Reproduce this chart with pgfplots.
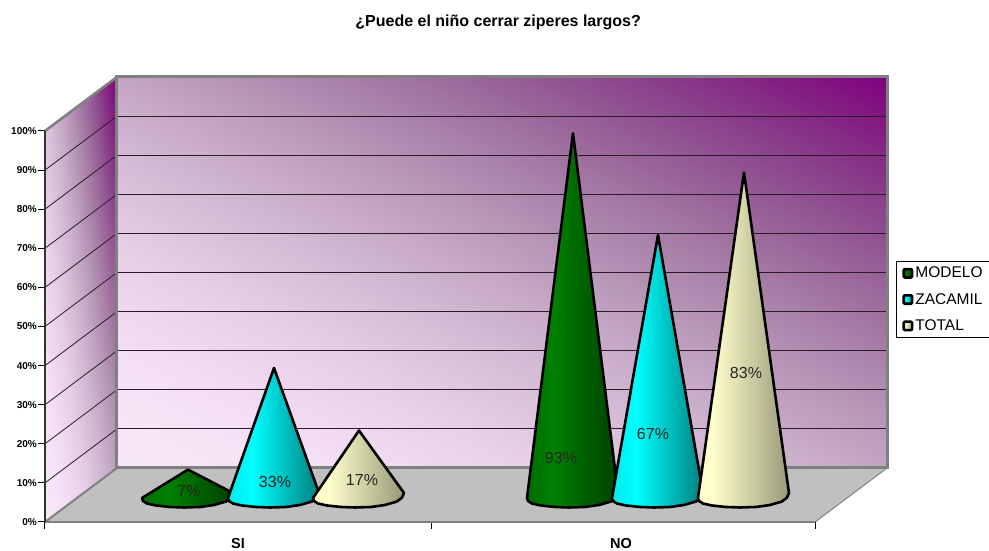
\documentclass[border=0pt]{standalone}
\usepackage{pgfplots}
\pgfplotsset{compat=1.18}
\usepackage{fontspec}
\usetikzlibrary{shadings}
\setmainfont{Liberation Sans}
\definecolor{cgreen}{HTML}{008000}
\definecolor{ccyan}{HTML}{00FFFF}
\definecolor{ccream}{HTML}{FFFFCC}
\definecolor{edgegray}{HTML}{808080}
\definecolor{floorgray}{HTML}{C0C0C0}
\definecolor{gridc}{HTML}{2A1A2A}
\pgfdeclarehorizontalshading{greencone}{100bp}{color(0bp)=(cgreen!85!black); color(25bp)=(cgreen!85!black); color(40bp)=(cgreen); color(75bp)=(cgreen!50!black); color(100bp)=(cgreen!50!black)}
\pgfdeclarehorizontalshading{cyancone}{100bp}{color(0bp)=(ccyan!92!black); color(25bp)=(ccyan!92!black); color(38bp)=(ccyan); color(75bp)=(ccyan!50!black); color(100bp)=(ccyan!50!black)}
\pgfdeclarehorizontalshading{creamcone}{100bp}{color(0bp)=(ccream); color(25bp)=(ccream); color(33bp)=(ccream); color(75bp)=(ccream!60!black); color(100bp)=(ccream!60!black)}
% wall gradients: t runs from 0 (pale) to 1 (purple)
\pgfdeclarefunctionalshading{backwall}{\pgfpoint{25bp}{25bp}}{\pgfpoint{75bp}{75bp}}{}{
  add 50 sub 100 div
  dup dup mul
  2 copy 0.769 mul exch 0.141 mul add 0.910 exch sub
  3 1 roll pop
  dup 1.067 mul 1.722 sub 1 index mul 0.196 add exch mul 0.961 add
  exch 1 index
}
\pgfdeclarefunctionalshading{sidewall}{\pgfpoint{25bp}{25bp}}{\pgfpoint{75bp}{75bp}}{}{
  25 sub 50 div exch 25 sub 50 div
  2 copy mul 0.16 mul exch 0.47 mul add exch 0.38 mul add
  dup dup mul
  2 copy 0.769 mul exch 0.141 mul add 0.910 exch sub
  3 1 roll pop
  dup 1.067 mul 1.722 sub 1 index mul 0.196 add exch mul 0.961 add
  exch 1 index
}
\newcommand{\keyimg}[1]{\draw[black,line width=2.6pt,rounded corners=1pt,fill=#1] (0pt,-4.2pt) rectangle (8.4pt,4.2pt);}
\begin{document}
\begin{tikzpicture}
\path[use as bounding box] (-45pt,-29pt) rectangle (944pt,522pt);
\begin{axis}[
  width=944pt, height=522pt, scale only axis,
  xmin=45, xmax=989, ymin=0, ymax=133.5,
  clip=false,
  axis x line=bottom, axis y line=left,
  axis line style={draw=none,-},
  xtick={45,431,815}, xticklabels={},
  extra x ticks={238,621}, extra x tick labels={SI,NO},
  extra x tick style={tick style={draw=none}},
  major tick length=7pt,
  ytick={0,10,...,100},
  yticklabels={0\%,10\%,20\%,30\%,40\%,50\%,60\%,70\%,80\%,90\%,100\%},
  tick style={black,line width=1pt},
  tick align=outside,
  yticklabel style={font=\bfseries\fontsize{10}{10}\selectfont,inner sep=1pt},
  xticklabel style={font=\bfseries\fontsize{14.5}{15}\selectfont,yshift=-6pt},
  title={¿Puede el niño cerrar ziperes largos?},
  title style={at={(axis description cs:0.48,0.9464)},anchor=center,font=\bfseries\fontsize{16}{16}\selectfont},
  legend style={at={(axis cs:896,66.7)},anchor=north west,draw=black,line width=0.8pt,
    font=\fontsize{15.5}{16}\selectfont,inner xsep=6pt,inner ysep=3.5pt,
    row sep=10pt,fill=white,/tikz/every even column/.append style={column sep=2pt}},
  legend cell align=left,
  unbounded coords=jump,
]
% back wall
\addplot[forget plot,draw=none,shade,shading=backwall]
  coordinates {(117,13.81)(887,13.81)(887,113.81)(117,113.81)} --cycle;
% side wall
\addplot[forget plot,draw=none,shade,shading=sidewall]
  coordinates {(45,0)(117,13.81)(117,113.81)(45,100)} --cycle;
% floor
\addplot[forget plot,draw=none,fill=floorgray]
  coordinates {(45,0)(117,13.81)(887,13.81)(815,0)} --cycle;
% grid lines on the back wall
\addplot[forget plot,gridc,line width=1pt] coordinates {
 (117,23.81)(887,23.81)(nan,nan)(117,33.81)(887,33.81)(nan,nan)(117,43.81)(887,43.81)(nan,nan)
 (117,53.81)(887,53.81)(nan,nan)(117,63.81)(887,63.81)(nan,nan)(117,73.81)(887,73.81)(nan,nan)
 (117,83.81)(887,83.81)(nan,nan)(117,93.81)(887,93.81)(nan,nan)(117,103.81)(887,103.81)};
% grid lines on the side wall
\addplot[forget plot,gridc,line width=0.8pt] coordinates {
 (45,10)(117,23.81)(nan,nan)(45,20)(117,33.81)(nan,nan)(45,30)(117,43.81)(nan,nan)
 (45,40)(117,53.81)(nan,nan)(45,50)(117,63.81)(nan,nan)(45,60)(117,73.81)(nan,nan)
 (45,70)(117,83.81)(nan,nan)(45,80)(117,93.81)(nan,nan)(45,90)(117,103.81)};
% frame
\addplot[forget plot,edgegray,line width=3pt,line join=miter] coordinates {(117,13.81)(887,13.81)(887,113.81)(117,113.81)} --cycle;
\addplot[forget plot,edgegray,line width=2.6pt] coordinates {(45,100)(117,113.81)};
\addplot[forget plot,edgegray,line width=2pt] coordinates {(45,0)(117,13.81)};
\addplot[forget plot,edgegray,line width=1pt] coordinates {(815,0)(887,13.81)};
\addplot[forget plot,edgegray,line width=2.4pt] coordinates {(45,0)(815,0)};
\addplot[forget plot,black!80,line width=1.4pt] coordinates {(45,0)(45,100)};
% cones: apex height = value + 6.39 (depth of the base above the front edge)
\addplot[draw=black,line width=2.6pt,line join=round,shade,shading=greencone,
  legend image code/.code={\keyimg{cgreen}}] coordinates {
 (188,13.39)(142,6.14)(143,5.37)(147,4.73)(156,4.22)(170,3.84)(184,3.71)(200,3.84)(214,4.35)(226,5.24)(231,6.27)(233,7.42)} --cycle;
\addlegendentry{MODELO}
\addplot[draw=black,line width=2.6pt,line join=round,shade,shading=cyancone,
  legend image code/.code={\keyimg{ccyan}}] coordinates {
 (274,39.39)(228,6.14)(229,5.37)(233,4.73)(242,4.22)(256,3.84)(270,3.71)(286,3.84)(300,4.35)(312,5.24)(317,6.27)(319,7.42)} --cycle;
\addlegendentry{ZACAMIL}
\addplot[draw=black,line width=2.6pt,line join=round,shade,shading=creamcone,
  legend image code/.code={\keyimg{ccream}}] coordinates {
 (359,23.39)(313,6.14)(314,5.37)(318,4.73)(327,4.22)(341,3.84)(355,3.71)(371,3.84)(385,4.35)(397,5.24)(402,6.27)(404,7.42)} --cycle;
\addlegendentry{TOTAL}
\addplot[forget plot,draw=black,line width=2.6pt,line join=round,shade,shading=greencone] coordinates {
 (573,99.39)(527,6.14)(528,5.37)(532,4.73)(541,4.22)(555,3.84)(569,3.71)(585,3.84)(599,4.35)(611,5.24)(616,6.27)(618,7.42)} --cycle;
\addplot[forget plot,draw=black,line width=2.6pt,line join=round,shade,shading=cyancone] coordinates {
 (658,73.39)(612,6.14)(613,5.37)(617,4.73)(626,4.22)(640,3.84)(654,3.71)(670,3.84)(684,4.35)(696,5.24)(701,6.27)(703,7.42)} --cycle;
\addplot[forget plot,draw=black,line width=2.6pt,line join=round,shade,shading=creamcone] coordinates {
 (744,89.39)(698,6.14)(699,5.37)(703,4.73)(712,4.22)(726,3.84)(740,3.71)(756,3.84)(770,4.35)(782,5.24)(787,6.27)(789,7.42)} --cycle;
% value labels
\begin{scope}[every node/.style={font=\fontsize{16}{16}\selectfont,text=black!85,inner sep=0pt}]
\node at (axis cs:189,7.93) {7\%};
\node at (axis cs:275,10.23) {33\%};
\node at (axis cs:362,10.74) {17\%};
\node at (axis cs:561,16.37) {93\%};
\node at (axis cs:653,22.51) {67\%};
\node at (axis cs:746,38.1) {83\%};
\end{scope}
\end{axis}
\end{tikzpicture}
\end{document}
